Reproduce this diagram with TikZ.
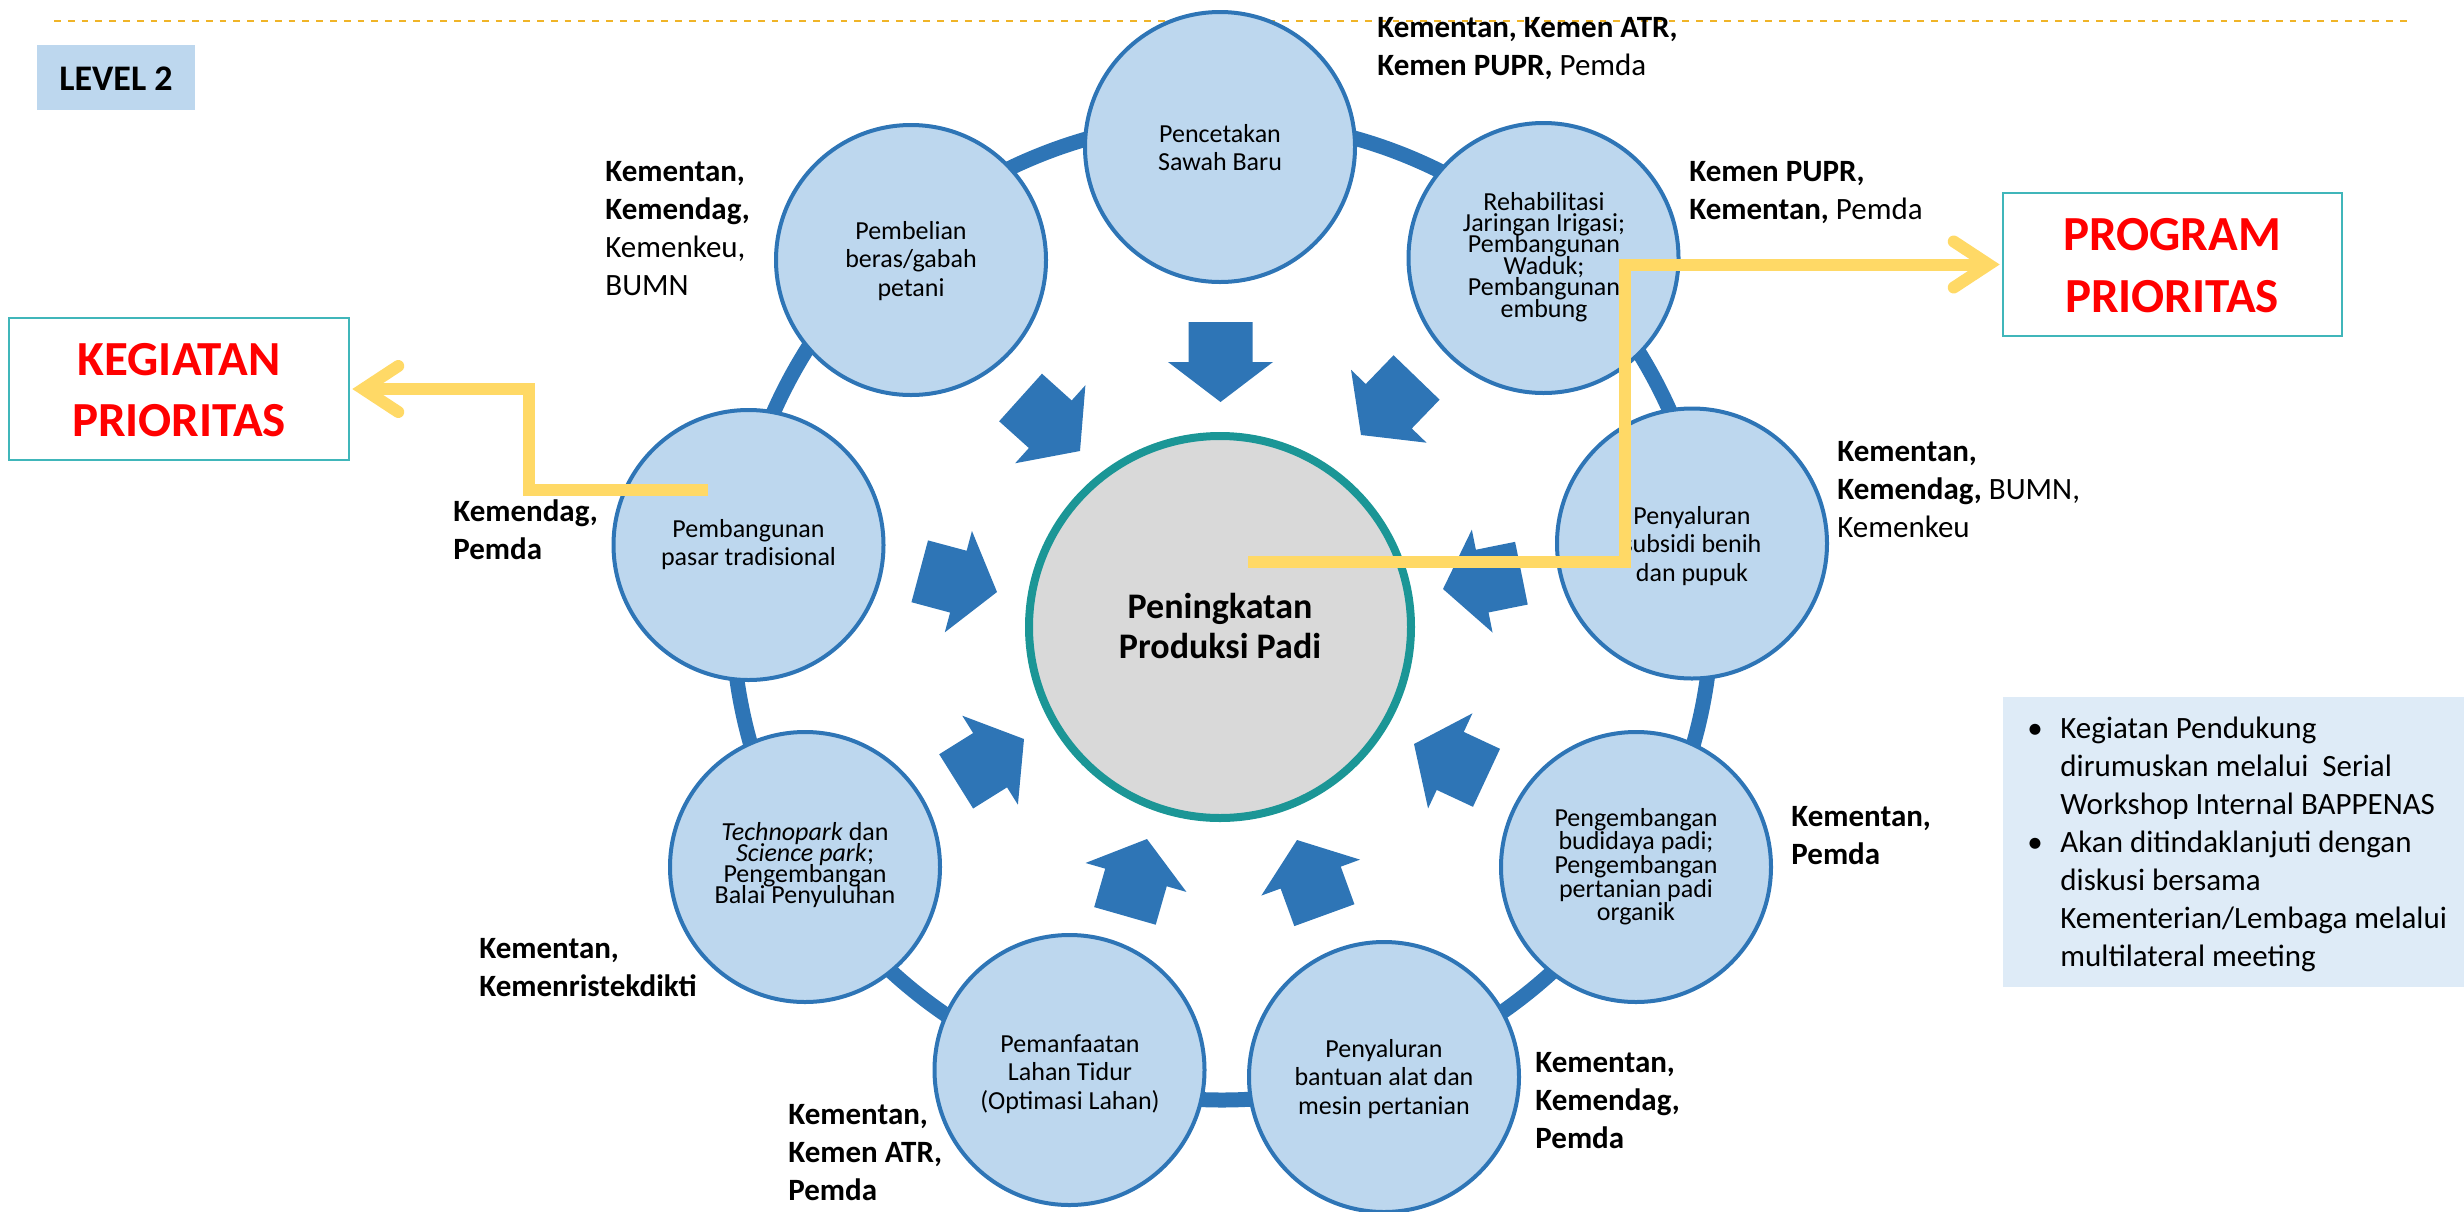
\documentclass[tikz,border=0pt]{standalone}
\usepackage{fontspec}
\setmainfont{Carlito}
\usetikzlibrary{calc}
\definecolor{ringblue}{RGB}{46,117,182}
\definecolor{circfill}{RGB}{189,215,238}
\definecolor{ctrfill}{RGB}{217,217,217}
\definecolor{ctrline}{RGB}{27,150,150}
\definecolor{yel}{RGB}{255,217,102}
\definecolor{boxline}{RGB}{64,182,186}
\definecolor{infofill}{RGB}{222,235,247}
\definecolor{dashgold}{RGB}{240,180,40}
\definecolor{lvlfill}{RGB}{189,215,238}
\newcommand\LftT[2][19pt]{\vtop{\baselineskip=#1\relax\lineskiplimit=-100pt\relax\halign{##\hfil\cr#2\crcr}}}
\newcommand\CtrT[2][14.25pt]{\vtop{\baselineskip=#1\relax\lineskiplimit=-100pt\relax\halign{\hfil##\hfil\cr#2\crcr}}}
\newcommand\blkarrow[3]{\fill[ringblue,shift={(#1,#2)},rotate=#3] (0,0) -- (-40,52.5) -- (-40,32) -- (-80,32) -- (-80,-32) -- (-40,-32) -- (-40,-52.5) -- cycle;}
\begin{document}
\begin{tikzpicture}[x=0.5pt,y=-0.5pt,
  outer/.style={circle,draw=ringblue,fill=circfill,line width=2pt,minimum size=135pt,inner sep=0pt},
  core/.style={circle,draw=ctrline,fill=ctrfill,line width=4pt,minimum size=191pt,inner sep=0pt},
  ctext/.style={inner sep=0pt,anchor=base,font=\fontsize{13pt}{14pt}\selectfont},
  lab/.style={inner sep=0pt,anchor=base west,font=\fontsize{15.5pt}{19pt}\selectfont},
  yline/.style={draw=yel,line width=6pt},
  prio/.style={draw=boxline,fill=white,line width=1.25pt,minimum width=170pt,minimum height=71pt,inner sep=0pt},
  prtext/.style={inner sep=0pt,anchor=base,text=red,font=\fontsize{24.5pt}{30pt}\selectfont\bfseries},
  bigtext/.style={inner sep=0pt,anchor=base,font=\fontsize{18pt}{20pt}\selectfont\bfseries},
]
\useasboundingbox (0,0) rectangle (2464,1211);
% header dashed line
\draw[draw=dashgold,line width=1.35pt,dash pattern=on 3.4pt off 3.5pt] (54,21) -- (2408,21);
% ring
\draw[draw=ringblue,line width=7.5pt] (1222,610) circle[radius=490];
% outer circles
\node[outer] (c1) at (1220,147) {};
\node[outer] (c2) at (1543.5,258) {};
\node[outer] (c3) at (1692,543.5) {};
\node[outer] (c4) at (1636,867) {};
\node[outer] (c5) at (1384,1077) {};
\node[outer] (c6) at (1069.5,1070) {};
\node[outer] (c7) at (805,867) {};
\node[outer] (c8) at (748.5,545) {};
\node[outer] (c9) at (911,260) {};
% core
\node[core] (core) at (1220,627) {};
% block arrows
\blkarrow{1220.5}{402}{-90}
\blkarrow{1361}{435}{-134}
\blkarrow{1443}{589}{-168.6}
\blkarrow{1414}{744}{155}
\blkarrow{1297}{840}{110}
\blkarrow{1147}{839}{74}
\blkarrow{1024}{739}{32}
\blkarrow{997}{592}{-15}
\blkarrow{1080}{451}{-42}
% circle texts
\node[ctext] (t1) at (1220,142) {\CtrT{Pencetakan\cr Sawah Baru}};
\node[ctext] (t2) at (1544,210) {\CtrT[10.7pt]{Rehabilitasi\cr Jaringan Irigasi;\cr Pembangunan\cr Waduk;\cr Pembangunan\cr embung}};
\node[ctext] (t3) at (1692,524) {\CtrT{Penyaluran\cr subsidi benih\cr dan pupuk}};
\node[ctext] (t4) at (1636,826) {\CtrT[11.85pt]{Pengembangan\cr budidaya padi;\cr Pengembangan\cr pertanian padi\cr organik}};
\node[ctext] (t5) at (1384,1057) {\CtrT{Penyaluran\cr bantuan alat dan\cr mesin pertanian}};
\node[ctext] (t6) at (1070,1052) {\CtrT{Pemanfaatan\cr Lahan Tidur\cr (Optimasi Lahan)}};
\node[ctext] (t7) at (805,840) {\CtrT[10.6pt]{\textit{Technopark} dan\cr \textit{Science park};\cr Pengembangan\cr Balai Penyuluhan}};
\node[ctext] (t8) at (748.5,537) {\CtrT{Pembangunan\cr pasar tradisional}};
\node[ctext] (t9) at (911,239) {\CtrT{Pembelian\cr beras/gabah\cr petani}};
\node[bigtext] (coret) at (1220,618) {\CtrT[20pt]{Peningkatan\cr Produksi Padi}};
% agency labels
\node[lab] (l1) at (1377,37) {\LftT{\textbf{Kementan, Kemen ATR,}\cr \textbf{Kemen PUPR,} Pemda}};
\node[lab] (l2) at (1689,181) {\LftT{\textbf{Kemen PUPR,}\cr \textbf{Kementan,} Pemda}};
\node[lab] (l3) at (605,181) {\LftT{\textbf{Kementan,}\cr \textbf{Kemendag,}\cr Kemenkeu,\cr BUMN}};
\node[lab] (l4) at (1837,461) {\LftT{\textbf{Kementan,}\cr \textbf{Kemendag,} BUMN,\cr Kemenkeu}};
\node[lab] (l5) at (1791,826) {\LftT{\textbf{Kementan,}\cr \textbf{Pemda}}};
\node[lab] (l6) at (1535,1072) {\LftT{\textbf{Kementan,}\cr \textbf{Kemendag,}\cr \textbf{Pemda}}};
\node[lab] (l7) at (788,1124) {\LftT{\textbf{Kementan,}\cr \textbf{Kemen ATR,}\cr \textbf{Pemda}}};
\node[lab] (l8) at (479,958) {\LftT{\textbf{Kementan,}\cr \textbf{Kemenristekdikti}}};
\node[lab] (l9) at (453,521) {\LftT{\textbf{Kemendag,}\cr \textbf{Pemda}}};
% level box
\node[fill=lvlfill,minimum width=79pt,minimum height=32.5pt,inner sep=0pt] (lvl) at (116,77.5) {};
\node[bigtext] (lvlt) at (116,90) {LEVEL 2};
% priority boxes
\node[prio] (kegbox) at (179,389) {};
\node[prtext] (kegt) at (179,375) {\CtrT[30.5pt]{KEGIATAN\cr PRIORITAS}};
\node[prio,minimum width=169.5pt,minimum height=71.5pt] (progbox) at (2172.5,264.5) {};
\node[prtext] (progt) at (2172,250) {\CtrT[31pt]{PROGRAM\cr PRIORITAS}};
% info box
\node[fill=infofill,minimum width=230.5pt,minimum height=145pt,inner sep=0pt] (info) at (2233.5,842) {};
\node[lab] (infot) at (2027,738) {\LftT{\makebox[16.5pt][l]{•}Kegiatan Pendukung\cr\hspace*{16.5pt}dirumuskan melalui\ \ Serial\cr\hspace*{16.5pt}Workshop Internal BAPPENAS\cr\makebox[16.5pt][l]{•}Akan ditindaklanjuti dengan\cr\hspace*{16.5pt}diskusi bersama\cr\hspace*{16.5pt}Kementerian/Lembaga melalui\cr\hspace*{16.5pt}multilateral meeting}};
% yellow connectors
\coordinate (yR0) at (1248,562);
\coordinate (yR1) at (1625,562);
\coordinate (yRt) at ($(progbox.west)+(-13,0)$);
\draw[yline] (yR0) -- (yR1) -- (yR1 |- yRt) -- (yRt);
\draw[yline,line cap=round] ($(yRt)+(-35,-23)$) -- (yRt) -- ($(yRt)+(-35,23)$);
\coordinate (yL0) at (708,490);
\coordinate (yL1) at (529,490);
\coordinate (yLt) at ($(kegbox.east)+(13,0)$);
\draw[yline] (yL0) -- (yL1) -- (yL1 |- yLt) -- (yLt);
\draw[yline,line cap=round] ($(yLt)+(35,-23)$) -- (yLt) -- ($(yLt)+(35,23)$);
\end{tikzpicture}
\end{document}
